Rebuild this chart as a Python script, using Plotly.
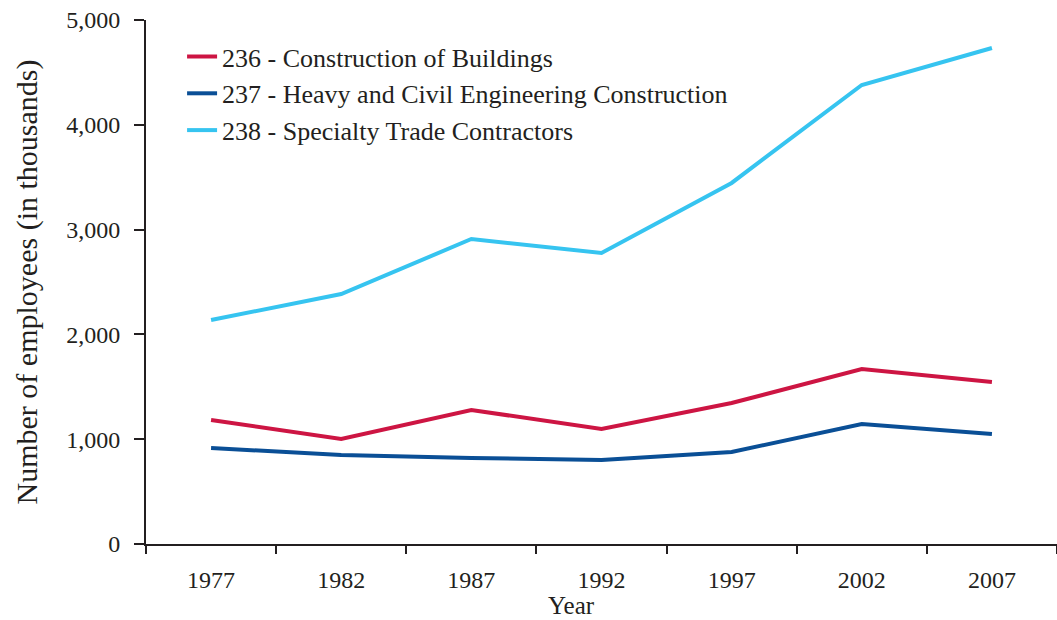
import plotly.graph_objects as go

years = ["1977", "1982", "1987", "1992", "1997", "2002", "2007"]
buildings = [1183, 1002, 1279, 1097, 1345, 1670, 1546]
heavy = [916, 849, 821, 802, 878, 1145, 1050]
specialty = [2137, 2385, 2910, 2777, 3445, 4380, 4733]

names = [
    "236 - Construction of Buildings",
    "237 - Heavy and Civil Engineering Construction",
    "238 - Specialty Trade Contractors",
]
colors = ["#CD1543", "#0A4F96", "#36C4F0"]

fig = go.Figure()
for name, vals, c in zip(names, [buildings, heavy, specialty], colors):
    fig.add_trace(go.Scatter(x=years, y=vals, mode="lines", name=name,
                             line=dict(color=c, width=4)))

font_family = "Liberation Serif, Times New Roman, serif"
fig.update_layout(
    width=1057, height=620,
    margin=dict(l=146, r=0, t=20, b=76),
    paper_bgcolor="white", plot_bgcolor="white",
    font=dict(family=font_family, size=24, color="#231F20"),
    showlegend=True,
    legend=dict(x=0.0396, y=0.975, xanchor="left", yanchor="top",
                bgcolor="rgba(0,0,0,0)", font=dict(size=26),
                itemwidth=30, tracegroupgap=0),
    xaxis=dict(type="category", tickson="boundaries", range=[-0.5, 6.5],
               automargin=False,
               showline=True, linecolor="#231F20", linewidth=2,
               ticks="outside", ticklen=8, tickwidth=2, tickcolor="#231F20",
               showgrid=False, zeroline=False,
               tickfont=dict(size=24), ticklabelstandoff=13),
    yaxis=dict(range=[0, 5000], tickvals=[0, 1000, 2000, 3000, 4000, 5000],
               ticktext=["0", "1,000", "2,000", "3,000", "4,000", "5,000"],
               automargin=False,
               showline=True, linecolor="#231F20", linewidth=2,
               ticks="outside", ticklen=10, tickwidth=2, tickcolor="#231F20",
               showgrid=False, zeroline=False,
               tickfont=dict(size=24), ticklabelstandoff=9,
               title=dict(text="Number of employees (in thousands)",
                          font=dict(size=30), standoff=20)),
    annotations=[dict(text="Year", xref="paper", yref="paper",
                      x=0.4676, y=-0.118, xanchor="center", yanchor="middle",
                      showarrow=False, font=dict(size=25))],
)

fig.write_html("out.html", config={"displayModeBar": False},
               post_script="document.body.style.margin='0';")
